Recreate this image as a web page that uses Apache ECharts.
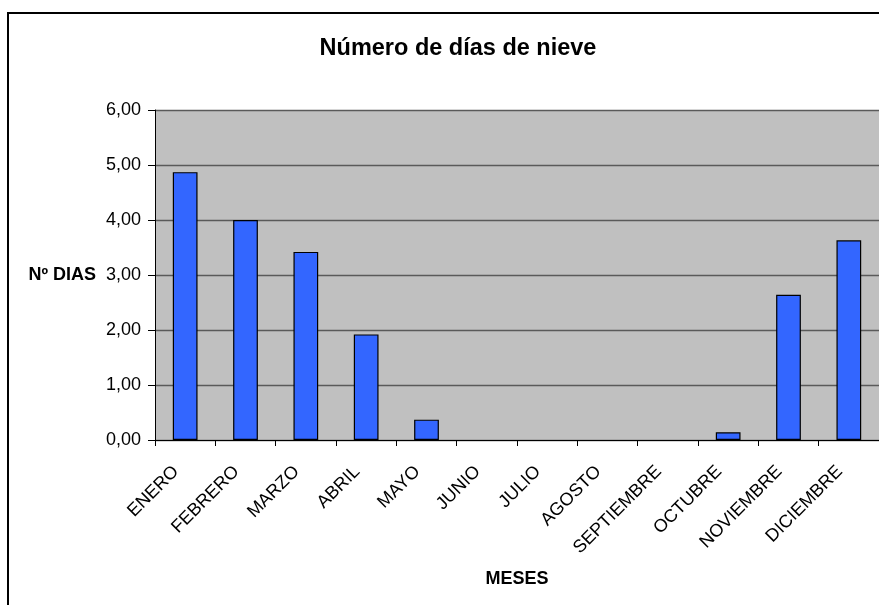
<!DOCTYPE html>
<html>
<head>
<meta charset="utf-8">
<script src="https://cdn.jsdelivr.net/npm/echarts@6/dist/echarts.min.js"></script>
<style>
  html, body { margin: 0; padding: 0; background: #ffffff; }
  #chart { width: 879px; height: 605px; }
</style>
</head>
<body>
<div id="chart"></div>
<script>
// Snow days per month
const months = ['ENERO', 'FEBRERO', 'MARZO', 'ABRIL', 'MAYO', 'JUNIO', 'JULIO',
                'AGOSTO', 'SEPTIEMBRE', 'OCTUBRE', 'NOVIEMBRE', 'DICIEMBRE'];
const snowDays = [4.87, 4.00, 3.42, 1.92, 0.37, 0, 0, 0, 0, 0.14, 2.64, 3.63];
const yTicks = [0, 1, 2, 3, 4, 5, 6];

const chartTitle = 'Número de días de nieve';
const yName = 'Nº DIAS';
const xName = 'MESES';

const FONT = 'Arial, "Liberation Sans", sans-serif';

// zero-height bars get no outline
const barData = snowDays.map(v => (v === 0
  ? { value: v, itemStyle: { borderWidth: 0 } }
  : v));

const chart = echarts.init(document.getElementById('chart'), null, { renderer: 'canvas' });

chart.setOption({
  animation: false,
  backgroundColor: '#ffffff',
  title: {
    text: chartTitle,
    left: 453,
    top: 32,
    textAlign: 'center',
    textStyle: { fontFamily: FONT, fontSize: 23.5, fontWeight: 'bold', color: '#000' }
  },
  graphic: [{
    type: 'rect',
    shape: { x: 8, y: 13, width: 1000, height: 1000 },
    style: { fill: 'none', stroke: '#000', lineWidth: 2 },
    silent: true,
    z: 100
  }],
  grid: {
    left: 155,
    right: 0,
    top: 110,
    bottom: 165,
    show: true,
    backgroundColor: '#c0c0c0',
    borderWidth: 0
  },
  xAxis: {
    type: 'category',
    data: months,
    boundaryGap: true,
    name: xName,
    nameLocation: 'middle',
    nameGap: 130,
    nameTextStyle: { fontFamily: FONT, fontSize: 18, fontWeight: 'bold', color: '#000' },
    axisLine: { show: true, lineStyle: { color: '#000', width: 1 } },
    axisTick: { show: true, length: 6, lineStyle: { color: '#000' } },
    axisLabel: {
      rotate: 45,
      interval: 0,
      margin: 38,
      align: 'right',
      verticalAlign: 'bottom',
      padding: [0, 0, 4, 0],
      fontFamily: FONT,
      fontSize: 18,
      color: '#000'
    },
    splitLine: { show: false }
  },
  yAxis: {
    type: 'value',
    min: yTicks[0],
    max: yTicks[yTicks.length - 1],
    interval: 1,
    name: yName,
    nameLocation: 'middle',
    nameRotate: 0,
    nameGap: 59,
    nameTextStyle: { fontFamily: FONT, fontSize: 18, fontWeight: 'bold', color: '#000', align: 'right', verticalAlign: 'middle' },
    axisLine: { show: true, lineStyle: { color: '#000', width: 1 } },
    axisTick: { show: true, length: 7, lineStyle: { color: '#000' } },
    axisLabel: {
      margin: 14,
      fontFamily: FONT,
      fontSize: 18,
      color: '#000',
      formatter: v => v.toFixed(2).replace('.', ',')
    },
    splitLine: { show: true, lineStyle: { color: '#5a5a5a', width: 1.3 } }
  },
  series: [{
    type: 'bar',
    data: barData,
    barWidth: '41%',
    itemStyle: { color: '#3366ff', borderColor: '#000', borderWidth: 1.2 }
  }]
});
</script>
</body>
</html>
